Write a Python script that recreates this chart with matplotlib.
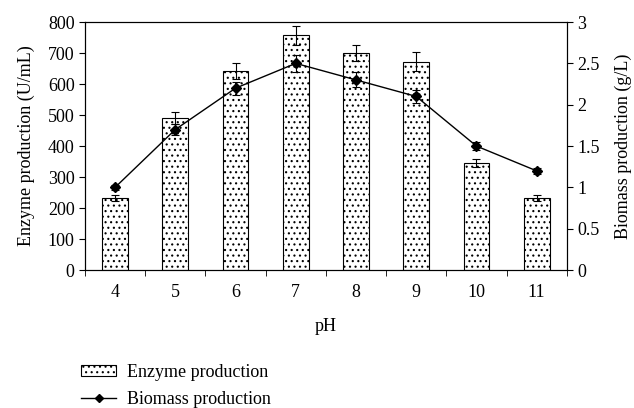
import matplotlib
matplotlib.use("Agg")
from matplotlib import pyplot as plt
from matplotlib.lines import Line2D
import numpy as np

plt.rcParams['font.family'] = ['Liberation Serif', 'DejaVu Serif']
plt.rcParams['hatch.linewidth'] = 0.8

ph = ['4', '5', '6', '7', '8', '9', '10', '11']
enzyme = [232, 490, 642, 757, 700, 672, 345, 232]
enzyme_err = [10, 20, 25, 30, 25, 30, 12, 10]
biomass = [1.0, 1.7, 2.2, 2.5, 2.3, 2.1, 1.5, 1.2]
biomass_err = [0.03, 0.07, 0.08, 0.1, 0.09, 0.08, 0.05, 0.04]

fig = plt.figure(figsize=(6.34, 4.08), dpi=100)
ax = fig.add_axes([0.134, 0.338, 0.76, 0.608])
x = np.arange(len(ph))
bars = ax.bar(x, enzyme, width=0.43, color='white', edgecolor='black', hatch='...',
              linewidth=0.8, yerr=enzyme_err, capsize=3,
              error_kw=dict(elinewidth=0.8, capthick=0.8))
ax.set_xlim(-0.5, len(ph) - 0.5)
ax.set_ylim(0, 800)
ax.set_yticks(range(0, 801, 100))
ax.set_xticks(x)
ax.set_xticklabels(ph)
ax.set_xticks(np.arange(-0.5, len(ph)), minor=True)
ax.tick_params(axis='x', which='major', length=0, labelsize=13, pad=10)
ax.tick_params(axis='x', which='minor', length=4, direction='out')
ax.tick_params(axis='y', labelsize=13, length=4)
ax.set_xlabel('pH', fontsize=13, labelpad=12)
ax.set_ylabel('Enzyme production (U/mL)', fontsize=13, labelpad=9)

ax2 = ax.twinx()
ax2.errorbar(x, biomass, yerr=biomass_err, color='black', marker='D', markersize=5.5,
             linewidth=1, capsize=3, elinewidth=0.8, capthick=0.8)
ax2.set_ylim(0, 3)
ax2.set_yticks([0, 0.5, 1, 1.5, 2, 2.5, 3])
ax2.set_yticklabels(['0', '0.5', '1', '1.5', '2', '2.5', '3'])
ax2.tick_params(axis='y', labelsize=13, length=4)
ax2.set_ylabel('Biomass production (g/L)', fontsize=13, labelpad=11)

line_handle = Line2D([], [], color='black', marker='D', markersize=4, linewidth=1)
fig.legend([bars, line_handle], ['Enzyme production', 'Biomass production'],
           loc='upper left', bbox_to_anchor=(0.128, 0.108), frameon=False,
           fontsize=13, handlelength=1.95, handleheight=0.5, handletextpad=0.6,
           labelspacing=0.55, borderaxespad=0, borderpad=0)

fig.savefig('out.png', dpi=100)
